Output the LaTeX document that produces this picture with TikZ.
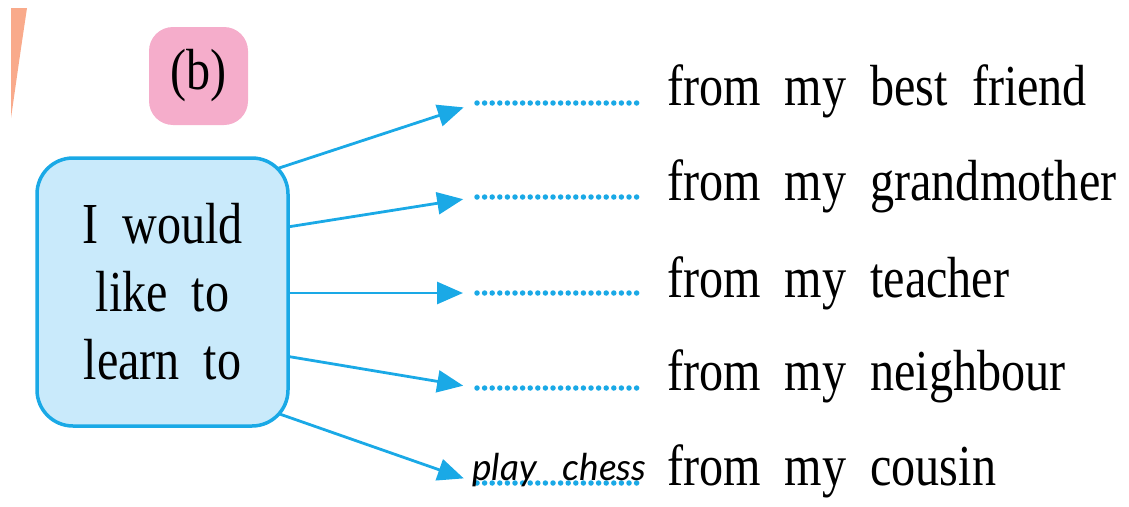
\documentclass[tikz,border=0pt]{standalone}
\usepackage{fontspec}
\setmainfont{Liberation Serif}
\newfontfamily\bookfont[FakeStretch=0.83,WordSpace=2]{Liberation Serif}
\newfontfamily\handfont[WordSpace=3]{Lato}
\usetikzlibrary{arrows.meta}
\definecolor{cyanline}{HTML}{1AA9E6}
\definecolor{boxfill}{HTML}{C9EAFB}
\definecolor{tagpink}{HTML}{F5ADCB}
\definecolor{wedgeorange}{HTML}{F9AA8B}
\pgfdeclarelayer{background}
\pgfsetlayers{background,main}
\begin{document}
\begin{tikzpicture}
[x=1pt,y=-1pt,
  boxdecorate/.style={draw=cyanline,line width=3.5pt,fill=boxfill,rounded corners=36pt,%
    minimum width=251pt,minimum height=268pt,align=center,%
    font=\bookfont\fontsize{58}{68}\selectfont},
  tagdecorate/.style={fill=tagpink,rounded corners=24pt,minimum width=99pt,%
    minimum height=98pt,font=\bookfont\fontsize{58}{68}\selectfont},
  blankdecorate/.style={inner sep=0pt,outer sep=0pt,minimum width=164pt,minimum height=0pt},
  textdecorate/.style={anchor=base west,inner sep=0pt,font=\bookfont\fontsize{58}{68}\selectfont},
  handdecorate/.style={anchor=base west,inner sep=0pt,font=\handfont\itshape\fontsize{37}{40}\selectfont},
  dotdecorate/.style={draw=cyanline,line width=5.5pt,line cap=round,dash pattern=on 0pt off 7.6pt},
  linedecorate/.style={-{Triangle[length=26pt,width=22pt]},line width=2.8pt,draw=cyanline,shorten >=14pt}]
\useasboundingbox (0,0) rectangle (1129,506);
%% corner wedge
\fill[wedgeorange] (11,8) -- (27,8) .. controls (20,55) .. (11,118) -- cycle;
%% tag and box
\node (tag) at (198.5,76) [tagdecorate] {(b)};
\node (box) at (162.5,292) [boxdecorate] {I would\\like to\\learn to};
%% blanks
\foreach \nodename/\y in {b1/103, b2/197, b3/293, b4/388, b5/483} {
  \node (\nodename) at (559,\y) [blankdecorate] {};
  \draw[dotdecorate] (\nodename.west) -- (\nodename.east);
}
%% phrases
\foreach \nodename/\y/\words in {t1/105/from my best friend, t2/200/from my grandmother,
    t3/297/from my teacher, t4/390/from my neighbour, t5/485/from my cousin} {
  \node (\nodename) at (667,\y) [textdecorate] {\words};
}
\node (answer) at (472,480) [handdecorate] {play chess};
%% arrows
\begin{pgfonlayer}{background}
\path
\foreach \dx/\dy/\endnode in {77/-111/b1, 87/-59/b2, 87/1/b3, 87/58/b4, 77/108/b5} {
  ([shift={(\dx,\dy)}]box.center) edge[linedecorate] (\endnode.west)
};
\end{pgfonlayer}
\end{tikzpicture}
\end{document}
